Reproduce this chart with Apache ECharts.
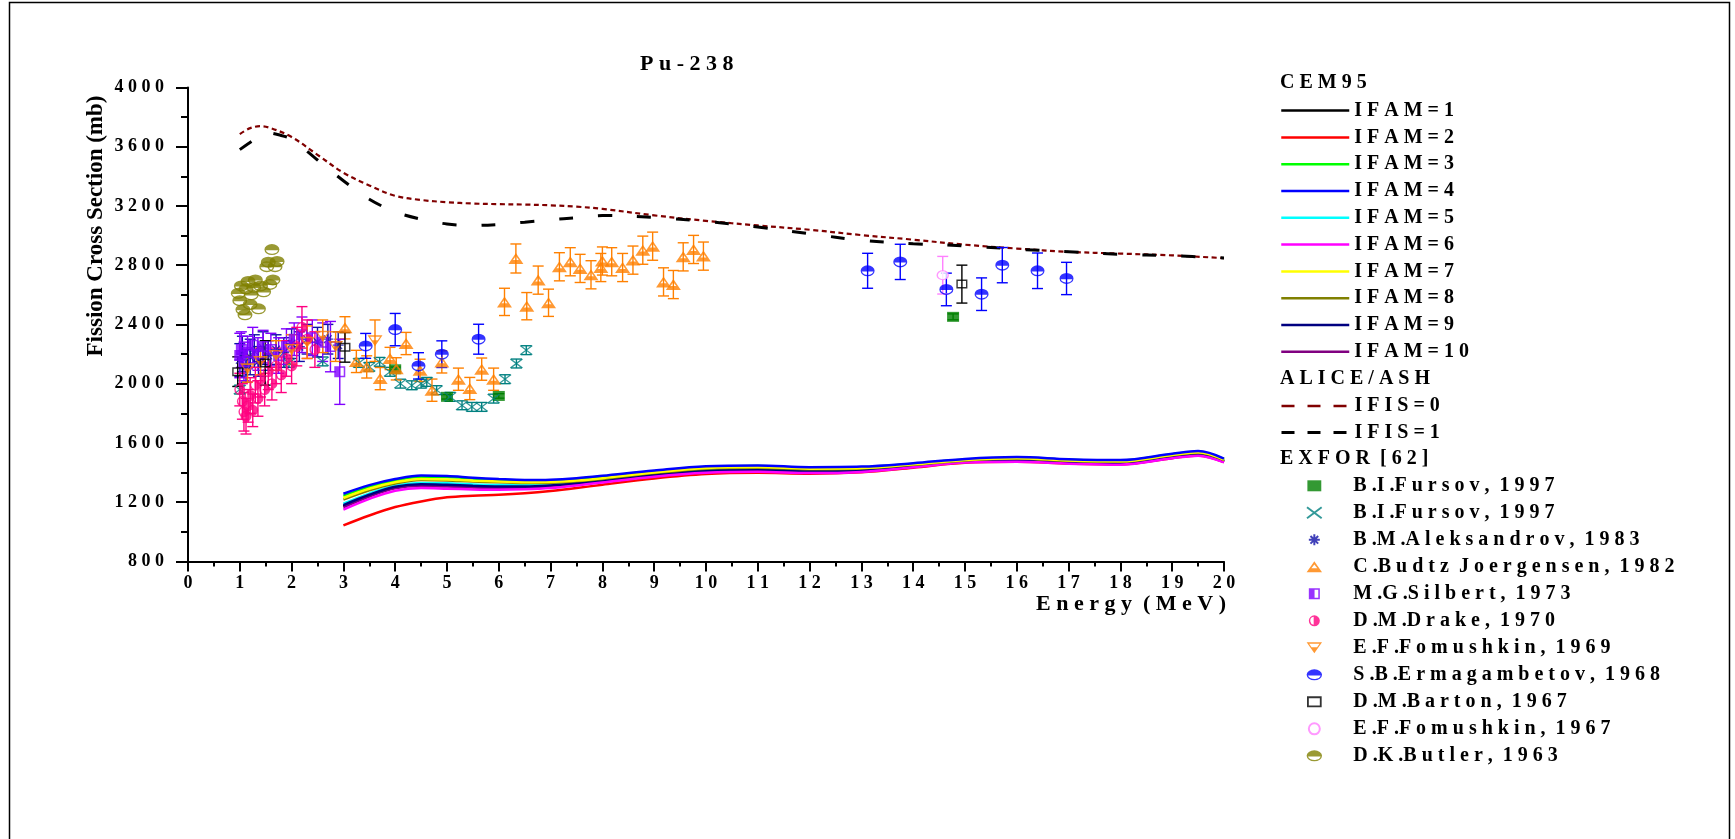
<!DOCTYPE html>
<html>
<head>
<meta charset="utf-8">
<title>Pu-238 fission cross section</title>
<script src="https://cdn.jsdelivr.net/npm/echarts@6.0.0/dist/echarts.min.js"></script>
<style>
  html, body { margin: 0; padding: 0; background: #fff; }
  #chart { width: 1735px; height: 839px; }
</style>
</head>
<body>
<div id="chart"></div>
<script>
// ---------------- data ----------------
// CEM95 energy grid (MeV) and cross sections (mb) for each IFAM option
const cemEnergy = [3, 3.5, 4, 4.5, 5, 5.5, 6, 6.5, 7, 7.5, 8, 9, 10, 11, 12, 13, 14, 15, 16, 17, 18, 19, 19.5, 20];
const ifam1  = [1172,1245,1300,1316,1311,1305,1302,1303,1311,1326,1345,1385,1410,1418,1408,1414,1443,1475,1482,1470,1463,1505,1523,1476];
const ifam2  = [1043,1110,1167,1205,1233,1244,1250,1260,1275,1295,1318,1360,1390,1398,1392,1402,1433,1466,1472,1461,1455,1497,1515,1470];
const ifam3  = [1242,1303,1346,1372,1370,1360,1350,1345,1347,1357,1373,1409,1438,1444,1432,1436,1459,1488,1500,1486,1480,1523,1541,1490];
const ifam4  = [1257,1315,1356,1380,1376,1365,1356,1350,1352,1362,1378,1414,1443,1448,1436,1440,1463,1492,1504,1490,1484,1527,1545,1494];
const ifam5  = [1190,1258,1311,1330,1328,1320,1316,1314,1318,1330,1348,1388,1416,1424,1414,1419,1447,1478,1488,1475,1467,1510,1528,1480];
const ifam6  = [1149,1222,1277,1295,1291,1286,1284,1287,1295,1312,1333,1372,1398,1405,1396,1404,1435,1467,1472,1460,1453,1496,1514,1468];
const ifam7  = [1228,1290,1334,1357,1353,1345,1340,1335,1336,1346,1362,1400,1430,1437,1426,1430,1455,1485,1497,1482,1476,1519,1537,1487];
const ifam8  = [1217,1280,1326,1350,1347,1339,1334,1329,1331,1341,1357,1396,1426,1433,1422,1427,1452,1482,1494,1479,1473,1516,1534,1484];
const ifam9  = [1180,1250,1304,1321,1317,1310,1306,1306,1313,1327,1346,1386,1412,1420,1410,1416,1445,1476,1484,1471,1464,1507,1525,1477];
const ifam10 = [1165,1238,1293,1309,1305,1299,1296,1298,1305,1320,1340,1380,1405,1413,1403,1409,1439,1471,1477,1465,1458,1500,1518,1472];

// ALICE/ASH energy grid (MeV) and cross sections (mb)
const ifis0Energy = [1, 1.2, 1.4, 1.6, 2, 2.5, 3, 3.5, 4, 4.5, 5, 5.5, 6, 6.5, 7, 7.5, 8, 9, 10, 11, 12, 13, 14, 15, 16, 17, 18, 19, 20];
const ifis0 = [3685,3725,3738,3725,3665,3545,3424,3338,3268,3240,3225,3216,3212,3209,3204,3195,3180,3136,3099,3068,3039,3003,2972,2938,2912,2890,2878,2866,2847];
const ifis1Energy = [1, 1.25, 1.5, 1.75, 2, 2.5, 3, 3.5, 4, 4.5, 5, 5.5, 6, 6.5, 7, 7.5, 8, 9, 10, 11, 12, 13, 14, 15, 16, 17, 18, 19, 20];
const ifis1 = [3580,3640,3695,3680,3650,3510,3370,3245,3160,3110,3078,3068,3075,3090,3107,3120,3135,3122,3095,3058,3012,2968,2945,2930,2908,2890,2873,2864,2848];

// EXFOR measurements: [energy MeV, cross section mb, uncertainty mb]
const fursovSquares = [[4.0,2097,15],[5.0,1911,15],[6.0,1917,15],[14.77,2451,20]];
const fursovCrosses = [[1.0,1960,30],[1.95,2140,30],[2.6,2150,30],[3.3,2140,30],[3.5,2113,30],[3.7,2147,30],[3.9,2080,30],[4.1,2000,30],[4.32,1989,30],[4.5,2000,30],[4.61,2012,30],[4.8,1956,30],[5.06,1911,30],[5.29,1854,30],[5.48,1843,30],[5.67,1843,30],[5.9,1899,30],[6.12,2030,30],[6.34,2136,30],[6.53,2226,30]];
const aleksandrov = [[1.0,2160,110],[1.05,2200,120],[1.12,2120,110],[1.2,2180,120],[1.28,2220,110],[1.36,2150,100],[1.45,2240,110],[1.55,2190,100],[1.7,2230,100],[1.85,2210,100],[2.0,2270,100],[2.15,2250,100],[2.3,2300,100],[2.5,2280,100],[2.7,2300,100],[2.9,2260,90]];
const budtz = [[3.03,2377,75],[3.25,2150,75],[3.45,2113,75],[3.71,2034,75],[3.9,2170,75],[4.02,2100,75],[4.21,2271,75],[4.48,2090,75],[4.71,1956,75],[4.9,2147,75],[5.22,2030,75],[5.44,1967,75],[5.67,2098,75],[5.9,2030,75],[6.11,2552,92],[6.33,2845,98],[6.54,2523,92],[6.76,2699,95],[6.96,2546,92],[7.17,2789,95],[7.38,2823,95],[7.57,2778,95],[7.78,2735,95],[7.97,2784,95],[8.0,2828,95],[8.18,2823,95],[8.39,2784,95],[8.59,2834,95],[8.78,2901,95],[8.97,2928,95],[9.18,2687,95],[9.37,2669,95],[9.56,2856,95],[9.76,2906,95],[9.95,2861,95]];
const silbert = [[1.0,2190,150],[1.03,2230,120],[1.08,2150,130],[1.15,2210,110],[1.25,2260,120],[1.35,2200,110],[1.45,2250,110],[1.6,2230,110],[1.75,2190,120],[1.9,2250,120],[2.05,2300,110],[2.2,2330,120],[2.4,2310,120],[2.6,2280,130],[2.75,2250,170],[2.93,2080,220]];
const drake = [[1.0,1960,110],[1.05,1880,120],[1.08,1810,130],[1.12,1780,120],[1.16,1850,110],[1.2,1920,120],[1.25,1820,110],[1.3,1990,120],[1.35,1900,120],[1.4,2030,120],[1.48,1960,110],[1.55,2080,120],[1.62,2000,110],[1.7,2120,120],[1.8,2060,120],[1.9,2170,120],[2.0,2120,120],[2.1,2250,130],[2.2,2380,140],[2.3,2300,130],[2.45,2230,120]];
const fomushkin69 = [[1.15,2100,90],[1.4,2150,90],[1.7,2190,100],[2.0,2230,100],[2.3,2280,110],[2.6,2320,110],[2.85,2250,100],[3.61,2290,140]];
const ermagambetov = [[3.43,2255,84],[4.0,2365,109],[4.45,2120,89],[4.9,2199,90],[5.61,2300,101],[13.12,2762,118],[13.75,2822,119],[14.64,2636,110],[15.32,2604,110],[15.72,2800,119],[16.4,2762,120],[16.96,2710,109]];
const barton = [[0.96,2081,100],[1.49,2140,150],[3.03,2245,100],[14.94,2672,128]];
const fomushkin67 = [[14.57,2732,127]];
const butler = [[0.97,2610],[1.0,2560],[1.03,2660],[1.06,2500],[1.1,2465],[1.12,2640],[1.16,2690],[1.2,2535],[1.22,2600],[1.27,2650],[1.3,2700],[1.36,2505],[1.4,2660],[1.46,2620],[1.52,2790],[1.55,2820],[1.58,2670],[1.62,2905],[1.64,2700],[1.68,2790],[1.72,2825]];

// axis tick values
const xTicks = { min: 0, max: 20, step: 1 };
const yTicks = { min: 800, max: 4000, step: 400 };

// ---------------- styling helpers ----------------
const FONT = '"Liberation Serif", "Times New Roman", serif';
// wide letter spacing as used by the plotting program
function spaced(s) {
  return Array.from(s).join(' ').replace(/\. /g, '.').replace(/ {3}/g, '  ');
}
const pairs = (xs, ys) => xs.map((x, i) => [x, ys[i]]);

// marker shapes
const SYM = {
  halfEllipse: 'path://M0,5A7,5,0,1,1,14,5A7,5,0,1,1,0,5Z M12.73,5.6L1.27,5.6A5.8,3.8,0,0,0,12.73,5.6Z',
  halfCircle: 'path://M5,0A5,5,0,1,1,5,10A5,5,0,1,1,5,0Z M4.4,1.35A3.7,3.7,0,0,0,4.4,8.65Z',
  halfSquare: 'path://M0,0L10,0L10,10L0,10Z M5.2,1.4L5.2,8.6L8.6,8.6L8.6,1.4Z',
  triUp: 'path://M7,0L14,10L0,10Z M7,2.8L4.3,6.3L9.7,6.3Z',
  triDown: 'path://M0,0L14,0L7,10Z M2.3,1.4L4.5,4.6L9.5,4.6L11.7,1.4Z',
  asterisk: 'path://M6,0L6,12M0,6L12,6M1.8,1.8L10.2,10.2M10.2,1.8L1.8,10.2',
  cross: 'path://M0,0L12,9M12,0L0,9',
  box: 'path://M0,0L12,0L12,9.5L0,9.5Z',
  openBox: 'path://M0,0L12,0L12,9L0,9Z M1.5,1.5L1.5,7.5L10.5,7.5L10.5,1.5Z'
};

const cemSeries = [
  { name: 'IFAM=1', data: ifam1, color: '#000000' },
  { name: 'IFAM=2', data: ifam2, color: '#FF0000' },
  { name: 'IFAM=3', data: ifam3, color: '#00FF00' },
  { name: 'IFAM=4', data: ifam4, color: '#0000FF' },
  { name: 'IFAM=5', data: ifam5, color: '#00FFFF' },
  { name: 'IFAM=6', data: ifam6, color: '#FF00FF' },
  { name: 'IFAM=7', data: ifam7, color: '#FFFF00' },
  { name: 'IFAM=8', data: ifam8, color: '#808000' },
  { name: 'IFAM=9', data: ifam9, color: '#000080' },
  { name: 'IFAM=10', data: ifam10, color: '#800080' }
];
// drawing order inside the band (last is on top)
const cemDrawOrder = ['IFAM=2', 'IFAM=1', 'IFAM=3', 'IFAM=5', 'IFAM=10', 'IFAM=9', 'IFAM=6', 'IFAM=8', 'IFAM=7', 'IFAM=4'];

const exfor = [
  { key: 'fursovSq', label: 'B.I.Fursov, 1997', data: fursovSquares, color: '#008000', symbol: SYM.box, size: [12, 10] },
  { key: 'fursovX', label: 'B.I.Fursov, 1997', data: fursovCrosses, color: '#008080', symbol: SYM.cross, size: [12, 9], outline: true },
  { key: 'aleks', label: 'B.M.Aleksandrov, 1983', data: aleksandrov, color: '#1010A8', symbol: SYM.asterisk, size: [11, 11], outline: true },
  { key: 'budtz', label: 'C.Budtz Joergensen, 1982', data: budtz, color: '#FF8000', symbol: SYM.triUp, size: [15, 11] },
  { key: 'silbert', label: 'M.G.Silbert, 1973', data: silbert, color: '#8000FF', symbol: SYM.halfSquare, size: [11, 11] },
  { key: 'drake', label: 'D.M.Drake, 1970', data: drake, color: '#FF0080', symbol: SYM.halfCircle, size: [11, 11] },
  { key: 'fom69', label: 'E.F.Fomushkin, 1969', data: fomushkin69, color: '#FF8000', symbol: SYM.triDown, size: [15, 11] },
  { key: 'erma', label: 'S.B.Ermagambetov, 1968', data: ermagambetov, color: '#0000FF', symbol: SYM.halfEllipse, size: [14, 11] },
  { key: 'barton', label: 'D.M.Barton, 1967', data: barton, color: '#000000', symbol: SYM.openBox, size: [11, 9] },
  { key: 'fom67', label: 'E.F.Fomushkin, 1967', data: fomushkin67, color: '#FF80FF', symbol: 'circle', size: [11, 9], open: true },
  { key: 'butler', label: 'D.K.Butler, 1963', data: butler, color: '#808000', symbol: SYM.halfEllipse, size: [15, 11] }
];
const exforLabel = Object.fromEntries(exfor.map(e => [e.key, e.label]));

// ---------------- series ----------------
const series = [];

cemDrawOrder.forEach(name => {
  const s = cemSeries.find(c => c.name === name);
  series.push({
    name: s.name, type: 'line', data: pairs(cemEnergy, s.data),
    smooth: 0.35, symbol: 'none', silent: true, z: 2,
    color: s.color, lineStyle: { color: s.color, width: 2.5 }
  });
});

series.push({
  name: 'IFIS=0', type: 'line', data: pairs(ifis0Energy, ifis0),
  smooth: 0.35, symbol: 'none', silent: true, z: 3,
  color: '#800000', lineStyle: { color: '#800000', width: 2.2, type: [5, 3.5] }
});
series.push({
  name: 'IFIS=1', type: 'line', data: pairs(ifis1Energy, ifis1),
  smooth: 0.35, symbol: 'none', silent: true, z: 4,
  color: '#000000', lineStyle: { color: '#000000', width: 3, type: [14, 25] }
});

// vertical error bars with caps, positioned through the axes
function errorBar(params, api) {
  const x = api.value(0), y = api.value(1), e = api.value(2);
  const top = api.coord([x, y + e]);
  const bot = api.coord([x, y - e]);
  const hw = 5.5;
  const style = { stroke: api.visual('color'), lineWidth: 1.4 };
  return {
    type: 'group',
    children: [
      { type: 'line', shape: { x1: top[0], y1: top[1], x2: bot[0], y2: bot[1] }, style },
      { type: 'line', shape: { x1: top[0] - hw, y1: top[1], x2: top[0] + hw, y2: top[1] }, style },
      { type: 'line', shape: { x1: bot[0] - hw, y1: bot[1], x2: bot[0] + hw, y2: bot[1] }, style }
    ]
  };
}

exfor.forEach(d => {
  if (d.data[0].length === 3) {
    series.push({
      name: 'err-' + d.key, type: 'custom', renderItem: errorBar,
      data: d.data, encode: { x: 0, y: 1 }, silent: true, z: 5,
      itemStyle: { color: d.color }
    });
  }
});

exfor.forEach(d => {
  let itemStyle;
  if (d.outline) itemStyle = { color: 'rgba(0,0,0,0)', borderColor: d.color, borderWidth: 1.3 };
  else if (d.open) itemStyle = { color: '#ffffff', borderColor: d.color, borderWidth: 1.3 };
  else itemStyle = { color: d.color };
  series.push({
    name: d.key, type: 'scatter', data: d.data.map(p => [p[0], p[1]]),
    symbol: d.symbol, symbolSize: d.size, silent: true, z: 6,
    color: d.color, itemStyle
  });
});

// ---------------- legends ----------------
const legendText = { fontFamily: FONT, fontWeight: 'bold', fontSize: 20, color: '#000', lineHeight: 20 };
const legendBase = {
  orient: 'vertical', left: 1280, padding: 0, selectedMode: false,
  itemWidth: 68, textStyle: legendText, symbolKeepAspect: true
};

const legends = [
  Object.assign({}, legendBase, {
    top: 100.6, itemHeight: 14, itemGap: 6.8,
    itemStyle: { opacity: 0 }, lineStyle: { width: 2.5 },
    data: cemSeries.map(c => c.name),
    formatter: spaced
  }),
  Object.assign({}, legendBase, {
    top: 396, itemHeight: 14, itemGap: 6.6,
    itemStyle: { opacity: 0 },
    data: [
      { name: 'IFIS=0', lineStyle: { width: 2.5, type: [13, 13] } },
      { name: 'IFIS=1', lineStyle: { width: 3, type: [13, 13] } }
    ],
    formatter: spaced
  }),
  // marker icons are centred in the 68px slot; the box starts at the widest marker
  Object.assign({}, legendBase, {
    left: 1306, top: 475.8, itemHeight: 11, itemGap: 7,
    data: exfor.map(e => e.key),
    formatter: name => spaced(exforLabel[name])
  })
];

// ---------------- axes ----------------
const labelStyle = { fontFamily: FONT, fontWeight: 'bold', fontSize: 18, color: '#000' };
function axisCommon(t, tickLen, minorLen, margin) {
  return {
    type: 'value', min: t.min, max: t.max, interval: t.step,
    axisLine: { show: true, onZero: false, lineStyle: { color: '#000', width: 2 } },
    axisTick: { show: true, inside: false, length: tickLen, lineStyle: { color: '#000', width: 2 } },
    minorTick: { show: true, splitNumber: 2, length: minorLen, lineStyle: { color: '#000', width: 2 } },
    splitLine: { show: false },
    minorSplitLine: { show: false },
    axisLabel: Object.assign({ margin, formatter: v => spaced(String(v)) }, labelStyle)
  };
}

const option = {
  animation: false,
  backgroundColor: '#ffffff',
  title: {
    text: spaced('Pu-238'), left: 640, top: 53, padding: 0,
    textStyle: { fontFamily: FONT, fontWeight: 'bold', fontSize: 22, color: '#000' }
  },
  grid: { left: 188, right: 511, top: 87.4, bottom: 277.6, outerBoundsMode: 'none', containLabel: false },
  xAxis: axisCommon(xTicks, 10, 5, 13),
  yAxis: axisCommon(yTicks, 12, 7, 24),
  legend: legends,
  graphic: [
    { type: 'rect', silent: true, shape: { x: 9.5, y: 2.5, width: 1720, height: 900 },
      style: { fill: 'none', stroke: '#000', lineWidth: 1.5 } },
    { type: 'text', silent: true, x: 96, y: 226, rotation: Math.PI / 2,
      style: { text: 'Fission Cross Section (mb)', fontFamily: FONT, fontWeight: 'bold', fontSize: 23,
               fill: '#000', align: 'center', verticalAlign: 'middle' } },
    { type: 'text', silent: true, x: 1226, y: 604,
      style: { text: spaced('Energy (MeV)'), fontFamily: FONT, fontWeight: 'bold', fontSize: 22,
               fill: '#000', align: 'right', verticalAlign: 'middle' } },
    { type: 'text', silent: true, x: 1280, y: 83,
      style: { text: spaced('CEM95'), fontFamily: FONT, fontWeight: 'bold', fontSize: 20,
               fill: '#000', align: 'left', verticalAlign: 'middle' } },
    { type: 'text', silent: true, x: 1280, y: 378.4,
      style: { text: spaced('ALICE/ASH'), fontFamily: FONT, fontWeight: 'bold', fontSize: 20,
               fill: '#000', align: 'left', verticalAlign: 'middle' } },
    { type: 'text', silent: true, x: 1280, y: 459.2,
      style: { text: spaced('EXFOR [62]'), fontFamily: FONT, fontWeight: 'bold', fontSize: 20,
               fill: '#000', align: 'left', verticalAlign: 'middle' } }
  ],
  series
};

const chart = echarts.init(document.getElementById('chart'), null, { renderer: 'canvas' });
chart.setOption(option);
</script>
</body>
</html>
